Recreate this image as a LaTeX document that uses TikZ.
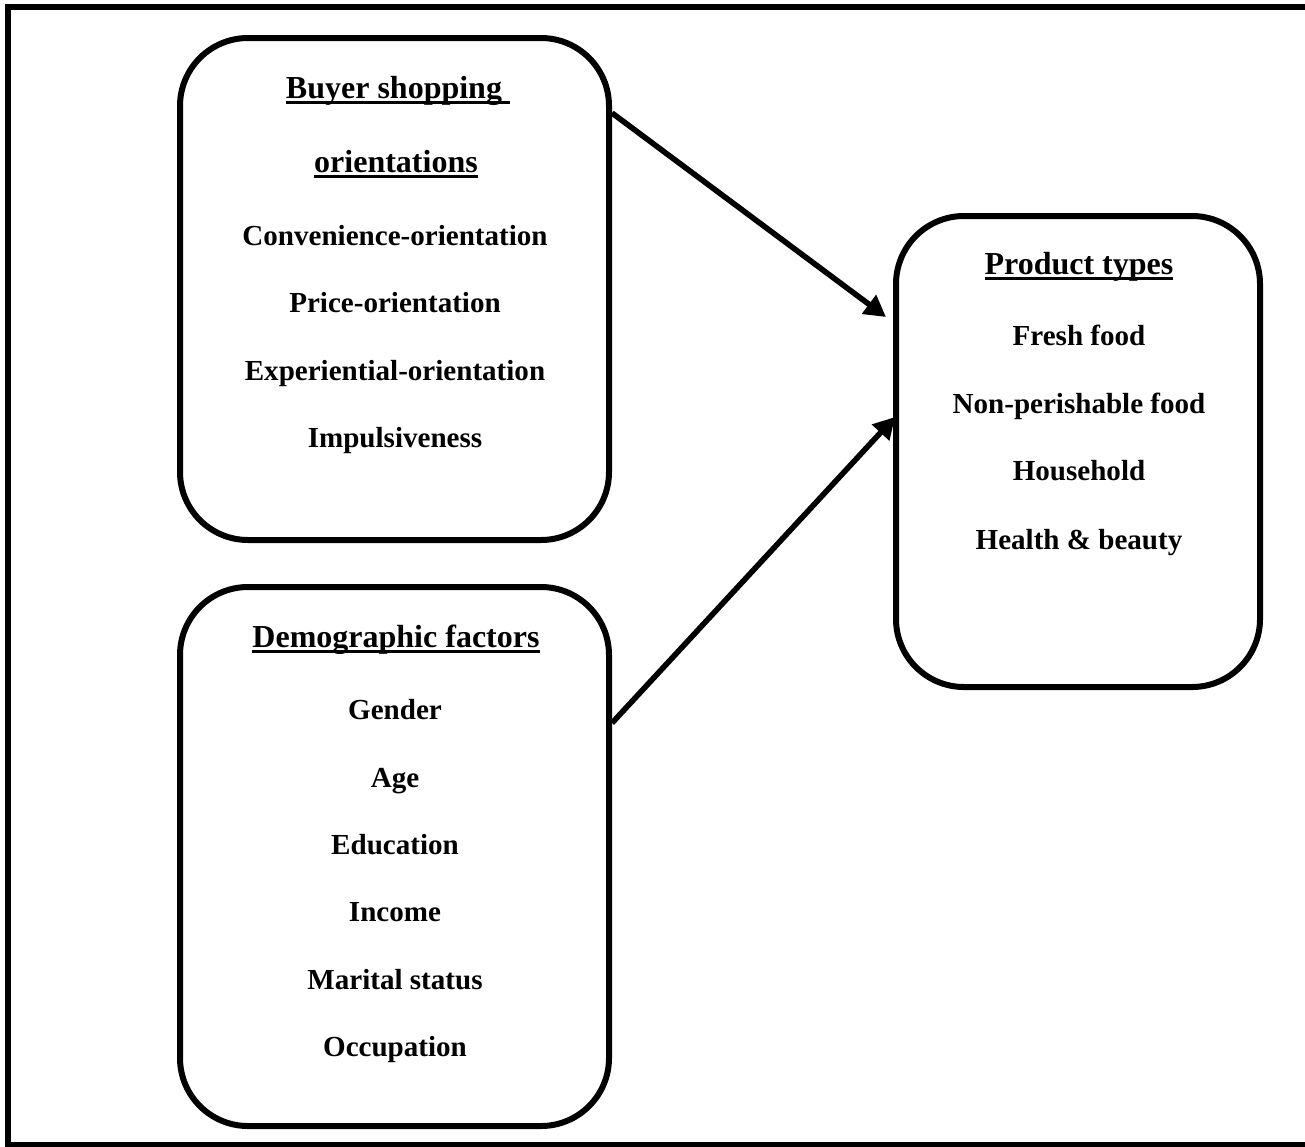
\documentclass[tikz,border=0pt]{standalone}
\usepackage{fontspec}
\setmainfont{Liberation Serif}
\usetikzlibrary{arrows.meta}
\newcommand\myul[1]{{\setbox0\hbox{#1}\rlap{\rule[-4.8pt]{\wd0}{2.4pt}}\box0}}
\begin{document}
\begin{tikzpicture}[x=0.75pt,y=-0.75pt,
  boxstyle/.style={draw,line width=4.5pt,rounded corners=51pt,inner sep=0pt},
  txt/.style={anchor=base,inner sep=0pt,font=\fontsize{21.8}{26}\selectfont\bfseries},
  ttl/.style={anchor=base,inner sep=0pt,font=\fontsize{24}{28}\selectfont\bfseries},
  conn/.style={line width=4.2pt,-{Triangle[length=16pt,width=17pt]}}]
\useasboundingbox (0,0) rectangle (1305,1146);
\draw[line width=4.5pt] (8,7) rectangle (1310,1145);
\node[boxstyle,minimum width=321.75pt,minimum height=376.5pt] (b1) at (394.5,289) {};
\node[boxstyle,minimum width=321.75pt,minimum height=404.25pt] (b2) at (394.5,856.5) {};
\node[boxstyle,minimum width=273pt,minimum height=353.25pt] (b3) at (1078,451.5) {};
% box 1 texts
\node[ttl] (t11) at (398,98) {\myul{Buyer shopping\ }};
\node[ttl] (t12) at (396,172) {\myul{orientations}};
\node[txt] (t13) at (395,245) {Convenience-orientation};
\node[txt] (t14) at (395,312) {Price-orientation};
\node[txt] (t15) at (395,380) {Experiential-orientation};
\node[txt] (t16) at (395,447) {Impulsiveness};
% box 2 texts
\node[ttl] (t21) at (396,647) {\myul{Demographic factors}};
\node[txt] (t22) at (395,719) {Gender};
\node[txt] (t23) at (395,787) {Age};
\node[txt] (t24) at (395,854) {Education};
\node[txt] (t25) at (395,921) {Income};
\node[txt] (t26) at (395,989) {Marital status};
\node[txt] (t27) at (395,1056) {Occupation};
% box 3 texts
\node[ttl] (t31) at (1079,274) {\myul{Product types}};
\node[txt] (t32) at (1079,345) {Fresh food};
\node[txt] (t33) at (1079,413) {Non-perishable food};
\node[txt] (t34) at (1079,480) {Household};
\node[txt] (t35) at (1079,549) {Health \& beauty};
% connectors
\coordinate (s1) at (b1.east |- 0,113);
\coordinate (e1) at (886,317);
\coordinate (s2) at (b2.east |- 0,723);
\coordinate (e2) at (895,417);
\draw[conn] (s1) -- (e1);
\draw[conn] (s2) -- (e2);
\end{tikzpicture}
\end{document}
